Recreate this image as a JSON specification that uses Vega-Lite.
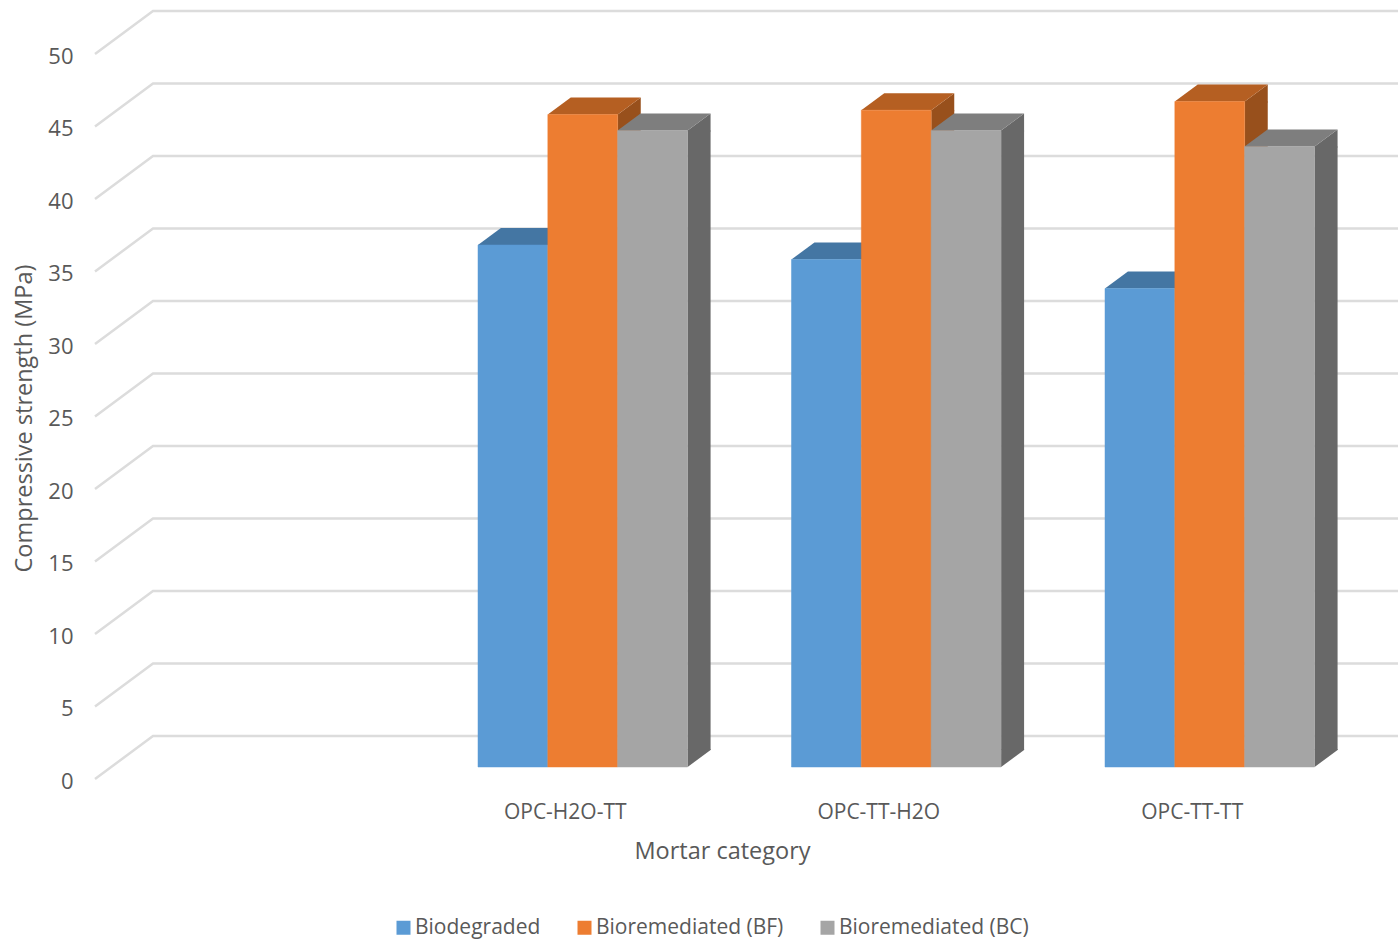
{
  "$schema": "https://vega.github.io/schema/vega-lite/v6.json",
  "autosize": "none",
  "padding": {"left": 95, "top": 0, "right": 49, "bottom": 173},
  "width": 1254,
  "height": 767,
  "background": "white",
  "config": {
    "view": {"stroke": null},
    "font": "Open Sans",
    "axis": {"labelFont": "Open Sans", "titleFont": "Open Sans", "labelColor": "#595959", "titleColor": "#595959", "titleFontWeight": "normal"},
    "legend": {"labelFont": "Open Sans"}
  },
  "datasets": {
    "strength": [
      {"category": "OPC-H2O-TT", "series": "Biodegraded", "value": 36},
      {"category": "OPC-H2O-TT", "series": "Bioremediated (BF)", "value": 45},
      {"category": "OPC-H2O-TT", "series": "Bioremediated (BC)", "value": 43.9},
      {"category": "OPC-TT-H2O", "series": "Biodegraded", "value": 35},
      {"category": "OPC-TT-H2O", "series": "Bioremediated (BF)", "value": 45.3},
      {"category": "OPC-TT-H2O", "series": "Bioremediated (BC)", "value": 43.9},
      {"category": "OPC-TT-TT", "series": "Biodegraded", "value": 33},
      {"category": "OPC-TT-TT", "series": "Bioremediated (BF)", "value": 45.9},
      {"category": "OPC-TT-TT", "series": "Bioremediated (BC)", "value": 42.8}
    ],
    "ticks": [
      {"tick": 0}, {"tick": 5}, {"tick": 10}, {"tick": 15}, {"tick": 20}, {"tick": 25},
      {"tick": 30}, {"tick": 35}, {"tick": 40}, {"tick": 45}, {"tick": 50}
    ]
  },
  "resolve": {"scale": {"color": "independent", "xOffset": "independent"}},
  "layer": [
    {
      "data": {"name": "ticks"},
      "mark": {"type": "point", "shape": "M-627,12L-569,-31L676,-31", "size": 4, "filled": false, "stroke": "#dcdcdc", "strokeWidth": 2.5, "opacity": 1},
      "encoding": {
        "y": {"field": "tick", "type": "quantitative", "scale": {"domain": [0, 52.897], "range": [767, 0], "nice": false, "zero": false},
          "axis": {"values": [0, 5, 10, 15, 20, 25, 30, 35, 40, 45, 50], "title": "Compressive strength (MPa)", "titleFontSize": 23.5, "titleX": -71, "titleY": 418, "titleAngle": -90, "titleAlign": "center", "titleBaseline": "middle", "labelFontSize": 22, "labelOffset": 14, "labelPadding": 22, "domain": false, "ticks": false, "grid": false}}
      }
    },
    {
      "data": {"name": "strength"},
      "transform": [{"filter": "datum.series !== 'Biodegraded'"}],
      "mark": {"type": "bar", "width": 23, "y2Offset": -17},
      "encoding": {
        "x": {"field": "category", "type": "nominal"},
        "xOffset": {"field": "series", "type": "nominal",
          "scale": {"type": "band", "domain": ["Biodegraded", "Bioremediated (BF)", "Bioremediated (BC)"], "range": [116, 325.5], "paddingInner": 0, "paddingOuter": 0}},
        "y": {"field": "value", "type": "quantitative", "stack": null},
        "y2": {"datum": 0},
        "color": {"field": "series", "type": "nominal", "legend": null, "scale": {"domain": ["Biodegraded", "Bioremediated (BF)", "Bioremediated (BC)"], "range": ["#4476a3", "#98501c", "#686868"]}}
      }
    },
    {
      "data": {"name": "strength"},
      "transform": [{"filter": "datum.series !== 'Biodegraded'"}],
      "mark": {"type": "point", "shape": "M35,0L58,-17L58,1L35,1Z", "size": 4, "filled": true, "opacity": 1},
      "encoding": {
        "x": {"field": "category", "type": "nominal"},
        "xOffset": {"field": "series", "type": "nominal",
          "scale": {"type": "band", "domain": ["Biodegraded", "Bioremediated (BF)", "Bioremediated (BC)"], "range": [69.5, 279], "paddingInner": 0, "paddingOuter": 0}},
        "y": {"field": "value", "type": "quantitative"},
        "color": {"field": "series", "type": "nominal", "legend": null, "scale": {"domain": ["Biodegraded", "Bioremediated (BF)", "Bioremediated (BC)"], "range": ["#4476a3", "#98501c", "#686868"]}}
      }
    },
    {
      "data": {"name": "strength"},
      "transform": [{"filter": "datum.series !== 'Biodegraded'"}],
      "mark": {"type": "point", "shape": "M35,-18L58,-18L58,-17L35,0Z", "size": 4, "filled": true, "opacity": 1},
      "encoding": {
        "x": {"field": "category", "type": "nominal"},
        "xOffset": {"field": "series", "type": "nominal",
          "scale": {"type": "band", "domain": ["Biodegraded", "Bioremediated (BF)", "Bioremediated (BC)"], "range": [69.5, 279], "paddingInner": 0, "paddingOuter": 0}},
        "y": {"datum": 0, "type": "quantitative"},
        "color": {"field": "series", "type": "nominal", "legend": null, "scale": {"domain": ["Biodegraded", "Bioremediated (BF)", "Bioremediated (BC)"], "range": ["#4476a3", "#98501c", "#686868"]}}
      }
    },
    {
      "data": {"name": "strength"},
      "mark": {"type": "point", "shape": "M-35,0L35,0L58,-17L-12,-17Z", "size": 4, "filled": true, "opacity": 1},
      "encoding": {
        "x": {"field": "category", "type": "nominal"},
        "xOffset": {"field": "series", "type": "nominal",
          "scale": {"type": "band", "domain": ["Biodegraded", "Bioremediated (BF)", "Bioremediated (BC)"], "range": [69.5, 279], "paddingInner": 0, "paddingOuter": 0}},
        "y": {"field": "value", "type": "quantitative"},
        "color": {"field": "series", "type": "nominal", "legend": null, "scale": {"domain": ["Biodegraded", "Bioremediated (BF)", "Bioremediated (BC)"], "range": ["#4476a3", "#b55f22", "#7e7e7e"]}}
      }
    },
    {
      "data": {"name": "strength"},
      "mark": {"type": "bar", "strokeWidth": 0.5},
      "encoding": {
        "x": {"field": "category", "type": "nominal",
          "scale": {"domain": ["", "OPC-H2O-TT", "OPC-TT-H2O", "OPC-TT-TT"], "paddingInner": 0, "paddingOuter": 0},
          "axis": {"title": "Mortar category", "titleFontSize": 23.5, "titlePadding": 17, "labelAngle": 0, "labelAlign": "center", "labelFontSize": 21, "labelPadding": 45, "domain": false, "ticks": false, "grid": false}},
        "xOffset": {"field": "series", "type": "nominal",
          "scale": {"type": "band", "domain": ["Biodegraded", "Bioremediated (BF)", "Bioremediated (BC)"], "range": [69.5, 279], "paddingInner": 0, "paddingOuter": 0}},
        "y": {"field": "value", "type": "quantitative", "stack": null},
        "stroke": {"field": "series", "type": "nominal", "legend": null,
          "scale": {"domain": ["Biodegraded", "Bioremediated (BF)", "Bioremediated (BC)"], "range": ["#5b9bd5", "#ed7d31", "#a5a5a5"]}},
        "color": {"field": "series", "type": "nominal",
          "scale": {"domain": ["Biodegraded", "Bioremediated (BF)", "Bioremediated (BC)"], "range": ["#5b9bd5", "#ed7d31", "#a5a5a5"]},
          "legend": {"orient": "none", "legendX": 298, "legendY": 917, "direction": "horizontal", "columns": 3, "title": null, "symbolType": "square", "symbolSize": 196, "symbolStrokeWidth": 0, "labelFontSize": 21, "labelColor": "#595959", "labelOffset": 1, "labelLimit": 400, "columnPadding": 33}}
      }
    }
  ]
}
